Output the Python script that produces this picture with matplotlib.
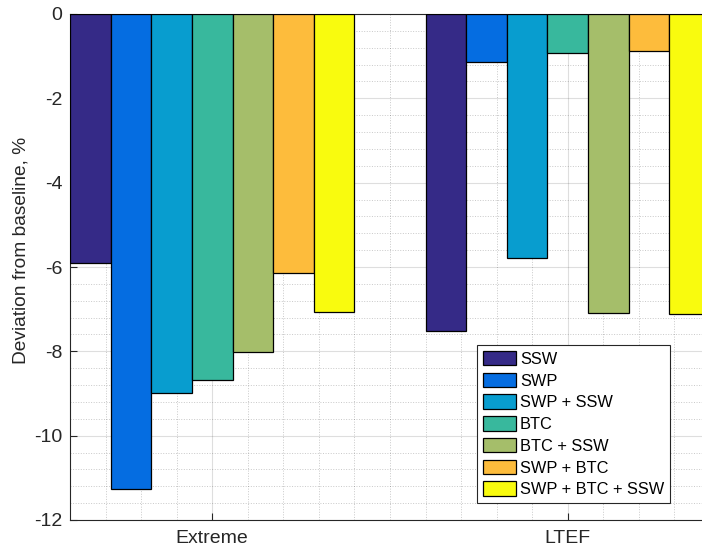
import numpy as np
import matplotlib.pyplot as plt
from matplotlib.ticker import MultipleLocator

plt.rcParams['font.family'] = ['Liberation Sans', 'DejaVu Sans']
plt.rcParams['axes.unicode_minus'] = False

groups = ['Extreme', 'LTEF']
series = ['SSW', 'SWP', 'SWP + SSW', 'BTC', 'BTC + SSW', 'SWP + BTC', 'SWP + BTC + SSW']
extreme = [-5.91, -11.26, -8.99, -8.68, -8.02, -6.15, -7.07]
ltef = [-7.51, -1.14, -5.79, -0.92, -7.10, -0.87, -7.12]
# parula(7)
colors = ['#352a87', '#056de1', '#089dcf', '#38b89d', '#a5be6a', '#fdbc3c', '#f9fb0e']

fig = plt.figure(figsize=(7.02, 5.52), dpi=100)
ax = fig.add_axes([70/702, 1-520/552, 640/702, 506/552])

x = np.arange(1, len(groups)+1)
w = 0.8/len(series)
for i, name in enumerate(series):
    vals = [extreme[i], ltef[i]]
    ax.bar(x - 0.4 + w*(i+0.5), vals, width=w, color=colors[i],
           edgecolor='black', linewidth=0.9, label=name, zorder=3)

ax.set_xlim(0.6, 2.4)
ax.set_ylim(-12, 0)
ax.set_xticks(x)
ax.set_xticklabels(groups)
ax.set_yticks(np.arange(-12, 1, 2))
ax.xaxis.set_minor_locator(MultipleLocator(0.1))
ax.yaxis.set_minor_locator(MultipleLocator(0.4))
ax.set_ylabel('Deviation from baseline, %', fontsize=13.8, color='#262626')
ax.yaxis.set_label_coords(-0.064, 0.532)

ax.grid(True, which='major', color='#262626', alpha=0.15, linewidth=0.8)
ax.grid(True, which='minor', color='#262626', alpha=0.25, linestyle=':', linewidth=0.7)
ax.set_axisbelow(True)
ax.tick_params(which='both', direction='in', colors='#262626', labelsize=14, top=False, right=False)
ax.tick_params(which='major', length=5)
ax.tick_params(which='minor', length=0)
ax.tick_params(axis='y', which='major', pad=5.5)
ax.tick_params(axis='x', which='major', pad=7)
for s in ax.spines.values():
    s.set_color('#262626')
    s.set_linewidth(0.8)

leg = ax.legend(loc='lower right', bbox_to_anchor=(0.9375, 0.0336), borderaxespad=0,
                fancybox=False, framealpha=1, edgecolor='#262626', fontsize=11.8,
                handlelength=2.0, handleheight=0.98, labelspacing=0.36,
                handletextpad=0.25, borderpad=0.35)
leg.get_frame().set_linewidth(0.8)

fig.savefig('out.png', dpi=100)
